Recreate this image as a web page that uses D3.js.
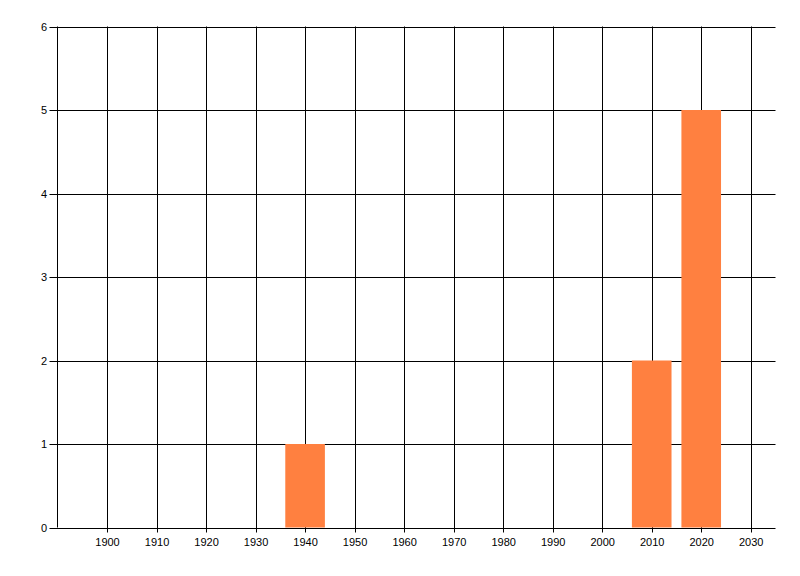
<!DOCTYPE html>
<html><head><meta charset="utf-8">
<script src="https://cdn.jsdelivr.net/npm/d3@7"></script>
<style>body{margin:0;background:#fff}svg{display:block}text{font-family:"Liberation Sans",Arial,sans-serif;font-size:11px;fill:#000}</style>
</head><body>
<svg id="c" width="800" height="576"></svg>
<script>
const years = [1940, 2010, 2020];
const counts = [1, 2, 5];
const xTicks = [1900,1910,1920,1930,1940,1950,1960,1970,1980,1990,2000,2010,2020,2030];
const yTicks = [0,1,2,3,4,5,6];

const svg = d3.select("#c");
const L = 57.5, R = 775.5, T = 26.5, B = 527.5;
const x = d3.scaleLinear().domain([1890, 2035]).range([L, R]);
const y = d3.scaleLinear().domain([0, 6]).range([B, T]);
const barW = x(1898) - x(1890);

// horizontal grid + y ticks
svg.append("g").selectAll("line").data(yTicks).join("line")
  .attr("x1", L - 8).attr("x2", R)
  .attr("y1", d => Math.round(y(d)) + 0.5).attr("y2", d => Math.round(y(d)) + 0.5)
  .attr("stroke", "#000").attr("stroke-width", 1);
// vertical grid + x ticks
svg.append("g").selectAll("line").data(xTicks).join("line")
  .attr("x1", d => Math.round(x(d)) + 0.5).attr("x2", d => Math.round(x(d)) + 0.5)
  .attr("y1", T).attr("y2", B + 5)
  .attr("stroke", "#000").attr("stroke-width", 1);
// left axis
svg.append("line").attr("x1", L).attr("x2", L).attr("y1", T).attr("y2", B)
  .attr("stroke", "#000");

// bars
svg.append("g").selectAll("rect").data(years).join("rect")
  .attr("x", d => x(d) - barW / 2)
  .attr("width", barW)
  .attr("y", (d, i) => y(counts[i]))
  .attr("height", (d, i) => y(0) - y(counts[i]))
  .attr("fill", "#FF8040");

// labels
svg.append("g").selectAll("text").data(yTicks).join("text")
  .attr("x", 47).attr("y", d => y(d) + 4)
  .attr("text-anchor", "end").text(d => d);
svg.append("g").selectAll("text").data(xTicks).join("text")
  .attr("x", d => x(d) + 0.5).attr("y", 545.5)
  .attr("text-anchor", "middle").text(d => d);
</script>
</body></html>
